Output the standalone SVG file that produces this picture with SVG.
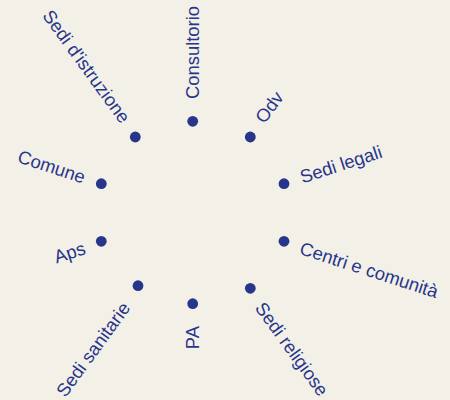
<svg xmlns="http://www.w3.org/2000/svg" width="450" height="400" viewBox="0 0 450 400">
<style>
.bg{fill:#f3f0e8}
.dot{fill:#27358a}
.lbl{font-family:"Liberation Sans",Arial,sans-serif;font-size:18.4px;fill:#27358a}
.r{text-anchor:start}
.l{text-anchor:end}
</style>
<rect class="bg" x="0" y="0" width="450" height="400"/>
<g id="connectors"></g>
<g id="consultorio"><circle class="dot" cx="192.7" cy="121.3" r="5.4"/><text class="lbl r" transform="translate(192.65,99) rotate(-90)" dy="0.35em">Consultorio</text></g>
<g id="odv"><circle class="dot" cx="250.3" cy="137" r="5.4"/><text class="lbl r" transform="translate(259.4,120.7) rotate(-54)" dy="0.35em">Odv</text></g>
<g id="sedi-legali"><circle class="dot" cx="284" cy="183.7" r="5.4"/><text class="lbl r" transform="translate(300.6,177.4) rotate(-18)" dy="0.35em">Sedi legali</text></g>
<g id="centri"><circle class="dot" cx="284" cy="241.3" r="5.4"/><text class="lbl r" transform="translate(300.6,247.6) rotate(18)" dy="0.35em">Centri e comunità</text></g>
<g id="sedi-religiose"><circle class="dot" cx="250.3" cy="288.3" r="5.4"/><text class="lbl r" transform="translate(259.4,304.3) rotate(54)" dy="0.35em">Sedi religiose</text></g>
<g id="pa"><circle class="dot" cx="192.7" cy="303.7" r="5.4"/><text class="lbl l" transform="translate(192.65,326) rotate(-90)" dy="0.35em">PA</text></g>
<g id="sedi-sanitarie"><circle class="dot" cx="138" cy="285.7" r="5.4"/><text class="lbl l" transform="translate(125.9,304.3) rotate(-54)" dy="0.35em">Sedi sanitarie</text></g>
<g id="aps"><circle class="dot" cx="101.3" cy="241.3" r="5.4"/><text class="lbl l" transform="translate(84.7,247.6) rotate(-18)" dy="0.35em">Aps</text></g>
<g id="comune"><circle class="dot" cx="101.3" cy="183.7" r="5.4"/><text class="lbl l" transform="translate(84.7,177.4) rotate(18)" dy="0.35em">Comune</text></g>
<g id="sedi-istruzione"><circle class="dot" cx="135.3" cy="137" r="5.4"/><text class="lbl l" transform="translate(125.9,120.7) rotate(54)" dy="0.35em">Sedi d'istruzione</text></g>
</svg>
